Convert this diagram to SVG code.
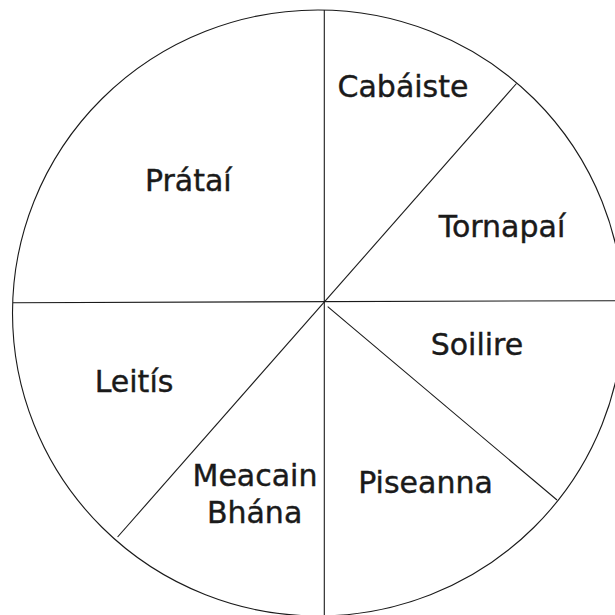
<svg xmlns="http://www.w3.org/2000/svg" width="615" height="615" viewBox="0 0 615 615">
  <style>
    .ln { stroke: #1a1a1a; stroke-width: 1.1; fill: none; }
    .lbl { font-family: "DejaVu Sans", "Liberation Sans", sans-serif; font-size: 30px; fill: #1a1a1a; stroke: #1a1a1a; stroke-width: 0.4; text-anchor: middle; }
  </style>
  <rect width="615" height="615" fill="#ffffff"/>
  <g id="connectors">
    <ellipse class="ln" cx="318" cy="313" rx="305.5" ry="303"/>
    <line class="ln" x1="324.3" y1="10" x2="324.3" y2="615"/>
    <line class="ln" x1="13" y1="302.7" x2="615" y2="300.7"/>
    <line class="ln" x1="516.5" y1="83.5" x2="117.6" y2="537"/>
    <line class="ln" x1="327.7" y1="306.7" x2="557" y2="500"/>
  </g>
  <g id="cabaiste"><text class="lbl" x="403" y="97.3">Cabáiste</text></g>
  <g id="pratai"><text class="lbl" x="188.3" y="191">Prátaí</text></g>
  <g id="tornapai"><text class="lbl" x="502" y="236.5">Tornapaí</text></g>
  <g id="soilire"><text class="lbl" x="477" y="355">Soilire</text></g>
  <g id="leitis"><text class="lbl" x="134" y="392.2">Leitís</text></g>
  <g id="meacain-bhana"><text class="lbl" x="255" y="485.6">Meacain</text><text class="lbl" x="254.6" y="522.8">Bhána</text></g>
  <g id="piseanna"><text class="lbl" x="425.5" y="493.4">Piseanna</text></g>
</svg>
